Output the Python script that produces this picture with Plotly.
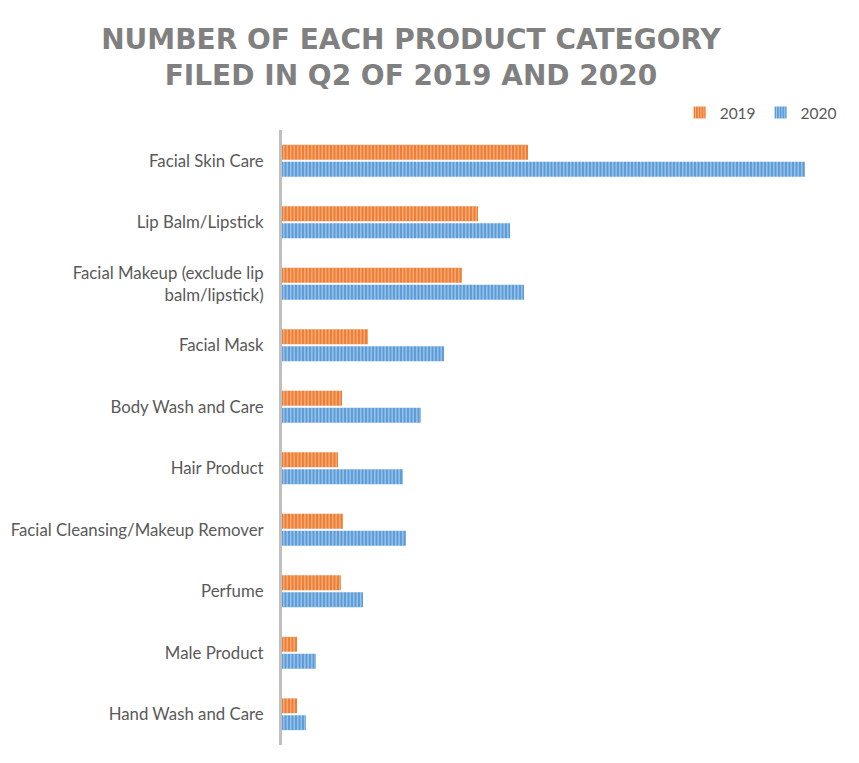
import plotly.graph_objects as go

categories = [
    "Facial Skin Care",
    "Lip Balm/Lipstick",
    "Facial Makeup (exclude lip<br>balm/lipstick)",
    "Facial Mask",
    "Body Wash and Care",
    "Hair Product",
    "Facial Cleansing/Makeup Remover",
    "Perfume",
    "Male Product",
    "Hand Wash and Care",
]
values_2019 = [246, 196, 180, 86, 60, 56, 61, 59, 15, 15]
values_2020 = [523, 228, 242, 162, 139, 121, 124, 81, 34, 24]

orange = "#ED7D31"
orange_light = "#F8B88E"
blue = "#5B9BD5"
blue_light = "#A9CDEF"

fig = go.Figure()
fig.add_trace(go.Bar(
    y=categories, x=values_2019, orientation="h", name="2019",
    marker=dict(color=orange, line=dict(width=0),
                pattern=dict(shape="|", bgcolor=orange, fgcolor=orange_light,
                             size=3.5, solidity=0.35, fillmode="replace")),
))
fig.add_trace(go.Bar(
    y=categories, x=values_2020, orientation="h", name="2020",
    marker=dict(color=blue, line=dict(width=0),
                pattern=dict(shape="|", bgcolor=blue, fgcolor=blue_light,
                             size=3.5, solidity=0.35, fillmode="replace")),
))

fig.update_layout(
    width=859, height=763,
    margin=dict(l=282, r=24, t=130, b=18),
    paper_bgcolor="white", plot_bgcolor="white",
    barmode="group", bargap=0.45, bargroupgap=0.12,
    title=dict(
        text="NUMBER OF EACH PRODUCT CATEGORY<br>FILED IN Q2 OF 2019 AND 2020",
        x=411 / 859, xanchor="center", y=1 - 49 / 763, yanchor="middle",
        xref="container", yref="container",
        font=dict(family="DejaVu Sans", size=28, color="#808080", weight="bold"),
    ),
    legend=dict(orientation="h", x=1.012, xanchor="right", y=1 + 17 / 615, yanchor="middle",
                font=dict(family="Lato", size=15.5, color="#595959"),
                itemwidth=30, tracegroupgap=0, bgcolor="rgba(0,0,0,0)"),
    xaxis=dict(range=[0, 553], showgrid=False, zeroline=False, showline=False,
               showticklabels=False, ticks=""),
    yaxis=dict(autorange="reversed", showline=True, linecolor="#bfbfbf", linewidth=3,
               showgrid=False, ticks="", ticklabelstandoff=12,
               tickfont=dict(family="Lato", size=16.8, color="#595959")),
    font=dict(family="Lato"),
)
fig.write_html("out.html")
